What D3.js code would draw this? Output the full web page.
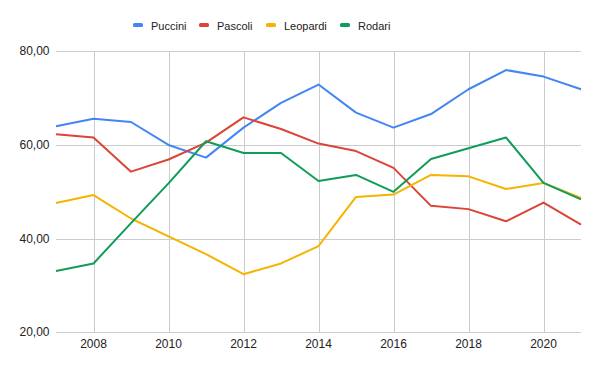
<!DOCTYPE html>
<html>
<head>
<meta charset="utf-8">
<script src="https://cdn.jsdelivr.net/npm/d3@7"></script>
<style>
  body { margin: 0; background: #fff; }
  text { font-family: "Liberation Sans", Arial, sans-serif; }
</style>
</head>
<body>
<div id="chart"></div>
<script>
// years on the x axis
const years = [2007, 2008, 2009, 2010, 2011, 2012, 2013, 2014, 2015, 2016, 2017, 2018, 2019, 2020, 2021];

const puccini  = [64.0, 65.6, 64.9, 60.0, 57.3, 63.7, 69.0, 72.9, 66.9, 63.7, 66.6, 71.9, 76.0, 74.6, 71.9];
const pascoli  = [62.3, 61.6, 54.3, 56.9, 60.5, 65.9, 63.4, 60.3, 58.7, 55.1, 47.0, 46.3, 43.7, 47.7, 43.0];
const leopardi = [47.6, 49.3, 44.3, 40.5, 36.7, 32.4, 34.7, 38.4, 48.9, 49.4, 53.6, 53.3, 50.6, 51.9, 48.7];
const rodari   = [33.1, 34.7, 43.3, 51.8, 60.8, 58.3, 58.3, 52.3, 53.6, 50.0, 57.0, 59.3, 61.6, 51.9, 48.4];

const seriesNames = ["Puccini", "Pascoli", "Leopardi", "Rodari"];
const seriesValues = [puccini, pascoli, leopardi, rodari];
const seriesColors = ["#4285F4", "#DB4437", "#F4B400", "#0F9D58"];

const yTicks = [20, 40, 60, 80];
const xTicks = [2008, 2010, 2012, 2014, 2016, 2018, 2020];

const width = 600, height = 371;
const margin = { top: 51.3, right: 19, bottom: 38.7, left: 56 };

const svg = d3.select("#chart").append("svg")
  .attr("width", width)
  .attr("height", height);

const x = d3.scaleLinear()
  .domain([2007, 2021])
  .range([margin.left, width - margin.right]);

const y = d3.scaleLinear()
  .domain([20, 80])
  .range([height - margin.bottom, margin.top]);

const fmt = v => d3.format(".2f")(v).replace(".", ",");

// horizontal grid + y labels
const yAxis = svg.append("g");
yAxis.selectAll("line").data(yTicks).enter().append("line")
  .attr("x1", x.range()[0]).attr("x2", x.range()[1])
  .attr("y1", d => Math.round(y(d)) + 0.5).attr("y2", d => Math.round(y(d)) + 0.5)
  .attr("stroke", "#cccccc").attr("stroke-width", 1);
yAxis.selectAll("text").data(yTicks).enter().append("text")
  .attr("x", 49.5).attr("y", d => y(d) + 4)
  .attr("text-anchor", "end")
  .attr("font-size", 12).attr("fill", "#222")
  .text(fmt);

// vertical grid + x labels
const xAxis = svg.append("g");
xAxis.selectAll("line").data(xTicks).enter().append("line")
  .attr("x1", d => Math.round(x(d)) + 0.5).attr("x2", d => Math.round(x(d)) + 0.5)
  .attr("y1", y.range()[1]).attr("y2", y.range()[0])
  .attr("stroke", "#cccccc").attr("stroke-width", 1);
xAxis.selectAll("text").data(xTicks).enter().append("text")
  .attr("x", d => x(d)).attr("y", height - margin.bottom + 16)
  .attr("text-anchor", "middle")
  .attr("font-size", 12).attr("fill", "#222")
  .text(d => d);

// lines
const line = d3.line()
  .x((d, i) => x(years[i]))
  .y(d => y(d));

svg.append("g").selectAll("path")
  .data(seriesValues)
  .enter().append("path")
  .attr("d", line)
  .attr("fill", "none")
  .attr("stroke", (d, i) => seriesColors[i])
  .attr("stroke-width", 2)
  .attr("stroke-linejoin", "round");

// legend
const legendX = [133, 199, 266, 340];
const legend = svg.append("g");
seriesNames.forEach((name, i) => {
  legend.append("rect")
    .attr("x", legendX[i]).attr("y", 23)
    .attr("width", 10).attr("height", 4)
    .attr("rx", 1.5)
    .attr("fill", seriesColors[i]);
  legend.append("text")
    .attr("x", legendX[i] + 18).attr("y", 29.5)
    .attr("font-size", 11).attr("fill", "#222")
    .text(name);
});
</script>
</body>
</html>
